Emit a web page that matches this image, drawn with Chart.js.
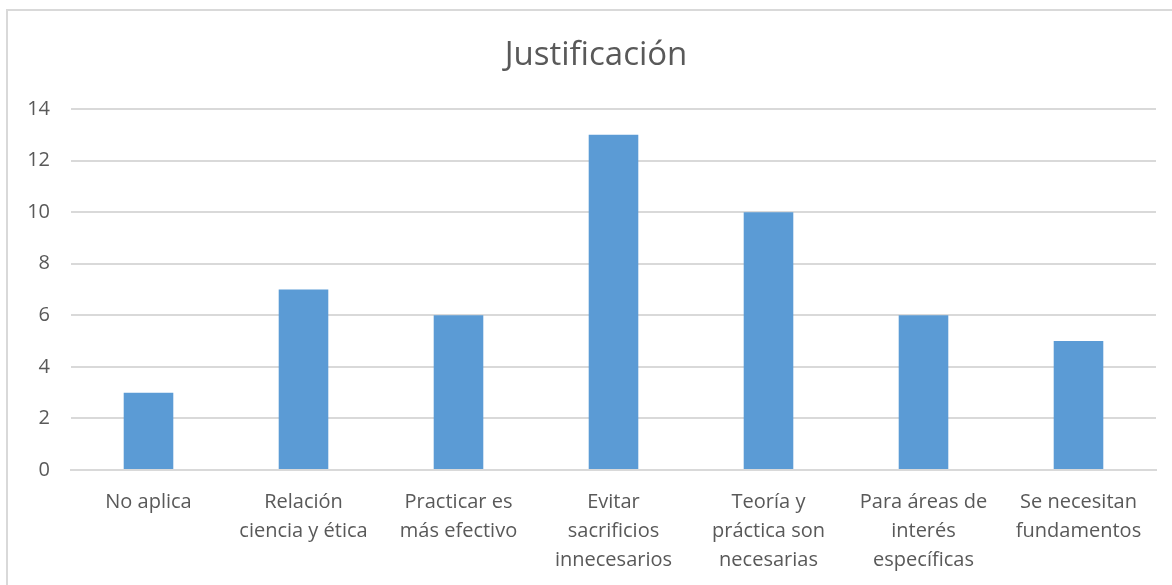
<!DOCTYPE html>
<html>
<head>
<meta charset="utf-8">
<script src="https://cdn.jsdelivr.net/npm/chart.js@4"></script>
<style>
  html, body { margin: 0; padding: 0; background: #fff; }
  #wrap { width: 1172px; height: 585px; }
</style>
</head>
<body>
<div id="wrap"><canvas id="chart" width="1172" height="585"></canvas></div>
<script>
const categories = [
    ['No aplica'],
    ['Relación', 'ciencia y ética'],
    ['Practicar es', 'más efectivo'],
    ['Evitar', 'sacrificios', 'innecesarios'],
    ['Teoría y', 'práctica son', 'necesarias'],
    ['Para áreas de', 'interés', 'específicas'],
    ['Se necesitan', 'fundamentos']
];
const counts = [3, 7, 6, 13, 10, 6, 5];
const yTicks = [0, 2, 4, 6, 8, 10, 12, 14];
const titleText = 'Justificación';

const textColor = '#595959';
const gridColor = '#d9d9d9';
const fontFamily = '"Open Sans", "DejaVu Sans", sans-serif';

// light frame around the whole chart, plus the centred title
const frame = {
    id: 'frame',
    beforeDraw(chart) {
        const ctx = chart.ctx;
        ctx.save();
        ctx.strokeStyle = gridColor;
        ctx.lineWidth = 2;
        ctx.strokeRect(7, 10, 1200, 620);
        ctx.fillStyle = textColor;
        ctx.font = '33px ' + fontFamily;
        ctx.textAlign = 'center';
        ctx.textBaseline = 'middle';
        ctx.fillText(titleText, 596, 56);
        ctx.restore();
    }
};

new Chart(document.getElementById('chart'), {
    type: 'bar',
    data: {
        labels: categories,
        datasets: [{
            label: titleText,
            data: counts,
            backgroundColor: '#5b9bd5',
            categoryPercentage: 1,
            barPercentage: 0.32
        }]
    },
    options: {
        responsive: false,
        animation: false,
        layout: { padding: { left: 0, right: 16, top: 109, bottom: 0 } },
        plugins: {
            legend: { display: false },
            tooltip: { enabled: false },
            title: { display: false }
        },
        scales: {
            x: {
                grid: { display: false },
                border: { color: gridColor, width: 2 },
                ticks: {
                    color: textColor,
                    font: { family: fontFamily, size: 20, lineHeight: 1.45 },
                    padding: 10,
                    maxRotation: 0,
                    autoSkip: false
                },
                afterFit(scale) { scale.height = 115; }
            },
            y: {
                min: 0,
                max: 14,
                afterBuildTicks(scale) { scale.ticks = yTicks.map(v => ({ value: v })); },
                grid: { color: gridColor, lineWidth: 2, drawTicks: false },
                border: { display: false },
                ticks: {
                    color: textColor,
                    font: { family: fontFamily, size: 20 },
                    padding: 21
                },
                afterFit(scale) { scale.width = 71; }
            }
        }
    },
    plugins: [frame]
});
</script>
</body>
</html>
